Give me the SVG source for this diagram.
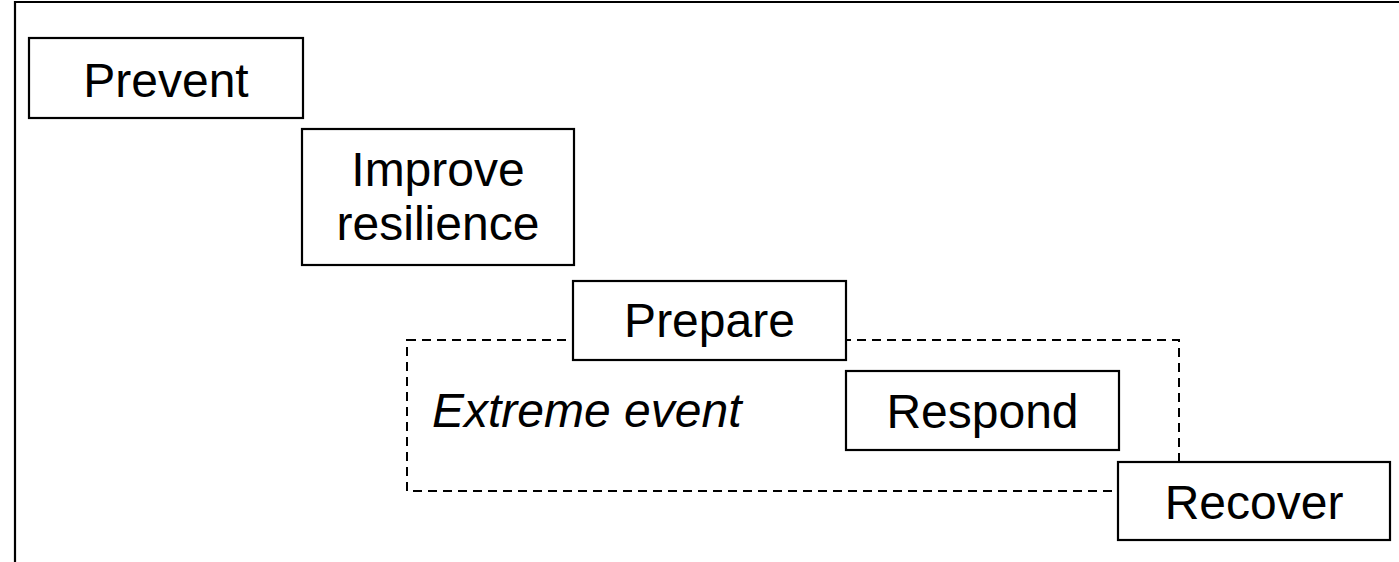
<svg xmlns="http://www.w3.org/2000/svg" width="1399" height="562" viewBox="0 0 1399 562">
<style>
.box{fill:#fff;stroke:#000;stroke-width:2.2}
.lbl{font-family:"Liberation Sans",Arial,sans-serif;font-size:48px;fill:#000;text-anchor:middle}
.it{font-family:"Liberation Sans",Arial,sans-serif;font-size:48px;font-style:italic;fill:#000}
</style>
<rect x="0" y="0" width="1399" height="562" fill="#fff"/>
<path d="M15 562 V2 H1399" fill="none" stroke="#000" stroke-width="2.2"/>
<g id="extreme-event">
<rect x="407" y="340" width="772" height="151" fill="none" stroke="#000" stroke-width="2" stroke-dasharray="9 6"/>
<text class="it" x="432" y="427">Extreme event</text>
</g>
<g id="connectors"></g>
<g id="prevent">
<rect class="box" x="29" y="38" width="274" height="80"/>
<text class="lbl" x="166" y="97">Prevent</text>
</g>
<g id="improve-resilience">
<rect class="box" x="302" y="129" width="272" height="136"/>
<text class="lbl" x="438" y="186">Improve</text>
<text class="lbl" x="438" y="240">resilience</text>
</g>
<g id="prepare">
<rect class="box" x="573" y="281" width="273" height="79"/>
<text class="lbl" x="709.5" y="337">Prepare</text>
</g>
<g id="respond">
<rect class="box" x="846" y="371" width="273" height="79"/>
<text class="lbl" x="982.5" y="428">Respond</text>
</g>
<g id="recover">
<rect class="box" x="1118" y="462" width="272" height="78"/>
<text class="lbl" x="1254" y="519">Recover</text>
</g>
</svg>
